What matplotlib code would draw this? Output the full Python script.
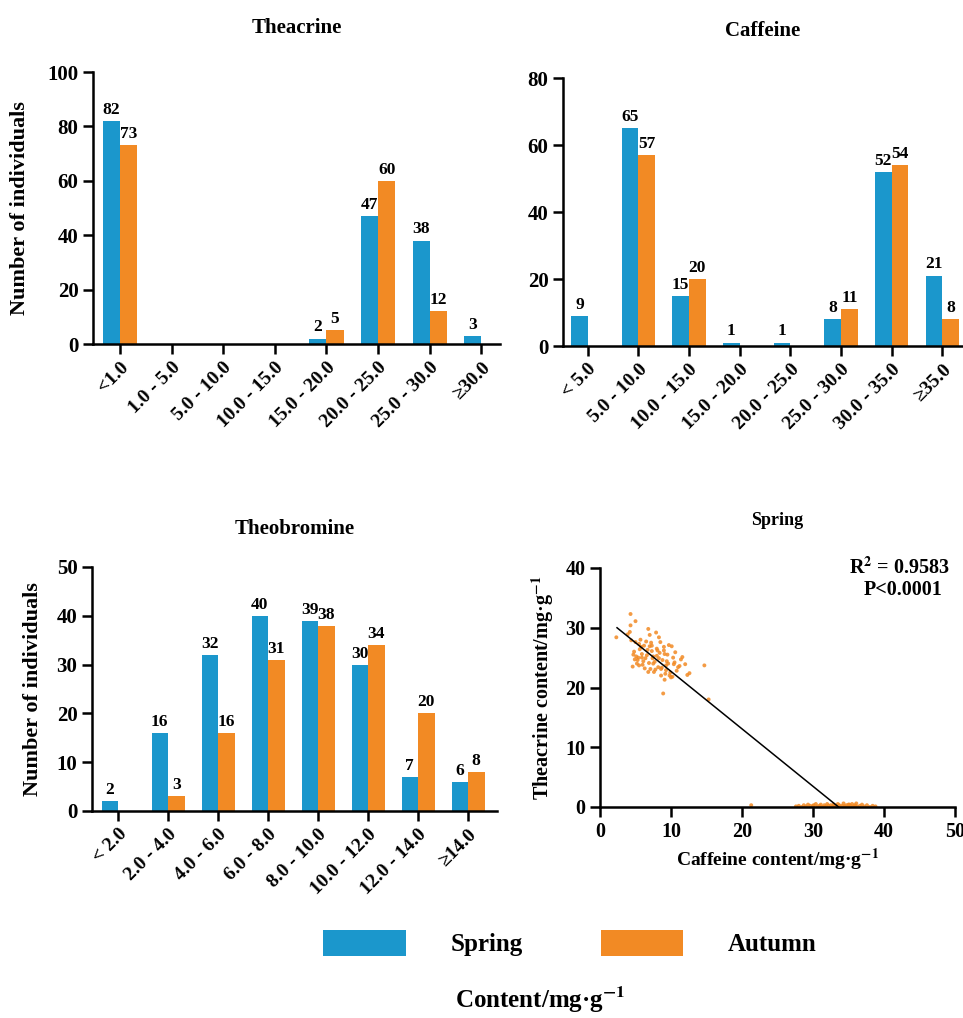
import numpy as np
import matplotlib
matplotlib.use("Agg")
import matplotlib.pyplot as plt
from matplotlib.patches import Patch

plt.rcParams.update({
    "font.family": ["Liberation Serif", "DejaVu Serif"],
    "font.weight": "bold",
    "axes.labelweight": "bold",
    "axes.titleweight": "bold",
    "mathtext.fontset": "stix",
    "axes.linewidth": 1.8,
    "xtick.major.width": 1.8,
    "ytick.major.width": 1.8,
    "xtick.major.size": 7,
    "ytick.major.size": 7,
})

BLUE = "#1B97CC"
ORANGE = "#F28A24"

# ---------------- data ----------------
theacrine_bins = ["<1.0", "1.0 - 5.0", "5.0 - 10.0", "10.0 - 15.0",
                  "15.0 - 20.0", "20.0 - 25.0", "25.0 - 30.0", "\u226530.0"]
theacrine_spring = [82, 0, 0, 0, 2, 47, 38, 3]
theacrine_autumn = [73, 0, 0, 0, 5, 60, 12, 0]

caffeine_bins = ["< 5.0", "5.0 - 10.0", "10.0 - 15.0", "15.0 - 20.0",
                 "20.0 - 25.0", "25.0 - 30.0", "30.0 - 35.0", "\u226535.0"]
caffeine_spring = [9, 65, 15, 1, 1, 8, 52, 21]
caffeine_autumn = [0, 57, 20, 0, 0, 11, 54, 8]

theobromine_bins = ["< 2.0", "2.0 - 4.0", "4.0 - 6.0", "6.0 - 8.0",
                    "8.0 - 10.0", "10.0 - 12.0", "12.0 - 14.0", "\u226514.0"]
theobromine_spring = [2, 16, 32, 40, 39, 30, 7, 6]
theobromine_autumn = [0, 3, 16, 31, 38, 34, 20, 8]

# spring scatter: caffeine (x) vs theacrine (y)
spring_caf_hi = [2.3, 4.3, 5.0, 4.3, 4.2, 4.4, 4.6, 4.8, 5.1, 5.3, 5.5, 5.2, 5.6, 5.9,
                 6.0, 6.2, 6.4, 5.8, 6.6, 6.8, 7.0, 7.1, 7.3, 7.5, 7.7, 7.2, 7.9, 8.0,
                 8.2, 8.4, 8.6, 8.8, 8.3, 9.0, 9.1, 9.3, 9.5, 9.7, 9.9, 10.1, 10.3, 10.5,
                 10.8, 11.2, 11.6, 12.0, 12.3, 14.7, 15.3, 6.9, 7.6, 8.1, 8.9, 9.4, 10.0,
                 4.9, 5.4, 6.3, 6.7, 7.4, 7.8, 8.5, 9.2, 9.6, 10.6, 11.0, 5.7, 6.1, 6.5,
                 7.0, 7.5, 8.0, 8.7, 9.8, 10.4, 4.7, 5.0, 5.5, 6.8, 8.3, 9.0, 9.3, 10.2,
                 11.4, 12.6, 3.9, 5.9, 7.3, 8.6, 9.1]
spring_thea_hi = [28.4, 32.3, 31.1, 30.4, 29.3, 27.9, 23.5, 26.0, 25.2, 24.6, 27.3, 24.0,
                  26.4, 25.6, 23.8, 27.0, 24.9, 26.8, 25.4, 29.8, 28.8, 23.1, 26.1, 25.2,
                  24.3, 27.5, 29.2, 26.5, 23.4, 25.8, 22.0, 24.6, 28.4, 26.8, 21.3, 23.7,
                  25.5, 27.1, 22.5, 26.9, 25.0, 24.2, 22.8, 23.6, 25.1, 23.9, 22.1, 23.7,
                  18.0, 24.1, 22.6, 26.2, 19.0, 24.4, 21.7, 24.7, 25.0, 23.2, 26.3, 24.9,
                  23.0, 27.6, 22.3, 24.0, 25.9, 23.4, 28.0, 24.4, 27.7, 26.9, 24.0, 25.3,
                  23.3, 22.0, 23.9, 25.5, 27.6, 23.7, 22.6, 24.9, 26.2, 22.9, 21.8, 24.7,
                  22.4, 28.9, 25.0, 27.0, 23.1, 25.6]

spring_caf_lo = [21.3, 27.6, 28.0, 28.4, 28.7, 29.0, 29.3, 29.6, 29.9, 30.1, 30.4, 30.6,
                 30.9, 31.1, 31.3, 31.6, 31.8, 32.0, 32.2, 32.5, 32.7, 32.9, 33.1, 33.3,
                 33.5, 33.7, 33.9, 34.1, 34.3, 34.5, 34.7, 34.9, 35.1, 35.3, 35.5, 35.7,
                 35.9, 36.1, 36.3, 36.6, 36.9, 37.2, 37.6, 38.0, 38.4, 38.8, 30.0, 31.5,
                 33.0, 34.4, 35.0, 36.0]
spring_thea_lo = [0.3, 0.1, 0.2, 0.0, 0.3, 0.1, 0.4, 0.2, 0.0, 0.3, 0.5, 0.1, 0.2, 0.4,
                  0.0, 0.3, 0.1, 0.5, 0.2, 0.3, 0.0, 0.4, 0.2, 0.1, 0.5, 0.3, 0.0, 0.2,
                  0.6, 0.1, 0.3, 0.0, 0.4, 0.2, 0.5, 0.1, 0.3, 0.6, 0.0, 0.2, 0.4, 0.1,
                  0.3, 0.0, 0.2, 0.1, 0.2, 0.0, 0.3, 0.1, 0.4, 0.2]

fit_x = [2.4, 33.6]
fit_y = [30.0, 0.0]

# ---------------- figure ----------------
fig = plt.figure(figsize=(9.63, 10.18), dpi=100)
W, H = 963.0, 1018.0


def px_axes(left, top, right, bottom):
    return fig.add_axes([left / W, 1 - bottom / H, (right - left) / W, (bottom - top) / H])


def style(ax, size):
    for s in ("top", "right"):
        ax.spines[s].set_visible(False)
    ax.tick_params(axis="both", labelsize=size, direction="out")
    for lab in ax.get_xticklabels() + ax.get_yticklabels():
        lab.set_fontweight("bold")


def bar_panel(ax, bins, spring, autumn, ymax, ystep, xlim, title, pad):
    x = np.arange(len(bins))
    w = 0.33
    ax.bar(x - w / 2, spring, w, color=BLUE)
    ax.bar(x + w / 2, autumn, w, color=ORANGE)
    for xi, v in zip(x - w / 2, spring):
        if v > 0:
            ax.text(xi, v + ymax * 0.012, str(v), ha="center", va="bottom",
                    fontsize=12.5, fontweight="bold")
    for xi, v in zip(x + w / 2, autumn):
        if v > 0:
            ax.text(xi, v + ymax * 0.012, str(v), ha="center", va="bottom",
                    fontsize=12.5, fontweight="bold")
    ax.set_xlim(*xlim)
    ax.set_ylim(0, ymax)
    ax.set_yticks(np.arange(0, ymax + 1, ystep))
    ax.set_xticks(x)
    style(ax, 15)
    ax.set_xticklabels(bins, rotation=45, ha="right", rotation_mode="anchor",
                       fontsize=14, fontweight="bold")
    ax.set_title(title, fontsize=15, fontweight="bold", pad=pad)


ax1 = px_axes(93, 72, 500, 344)
bar_panel(ax1, theacrine_bins, theacrine_spring, theacrine_autumn, 100, 20,
          (-0.52, 7.36), "Theacrine", 28)
ax1.set_ylabel("Number of individuals", fontsize=16, fontweight="bold")
ax1.yaxis.set_label_coords(-0.155, 0.5)

ax2 = px_axes(563, 78, 963, 346)
bar_panel(ax2, caffeine_bins, caffeine_spring, caffeine_autumn, 80, 20,
          (-0.49, 7.41), "Caffeine", 30)

ax3 = px_axes(92, 567, 497, 811)
bar_panel(ax3, theobromine_bins, theobromine_spring, theobromine_autumn, 50, 10,
          (-0.52, 7.58), "Theobromine", 24)
ax3.set_ylabel("Number of individuals", fontsize=16, fontweight="bold")
ax3.yaxis.set_label_coords(-0.12, 0.5)

ax4 = px_axes(600, 568, 955, 807)
ax4.scatter(spring_caf_hi, spring_thea_hi, s=8, color=ORANGE, alpha=0.85, edgecolors="none")
ax4.scatter(spring_caf_lo, spring_thea_lo, s=8, color=ORANGE, alpha=0.85, edgecolors="none")
ax4.plot(fit_x, fit_y, color="black", lw=1.1)
ax4.set_xlim(0, 50)
ax4.set_ylim(0, 40)
ax4.set_xticks(np.arange(0, 51, 10))
ax4.set_yticks(np.arange(0, 41, 10))
style(ax4, 14.5)
ax4.set_title("Spring", fontsize=13, fontweight="bold", pad=31)
ax4.set_xlabel("Caffeine content/mg\u00b7g$^{\\mathbf{-1}}$", fontsize=14, fontweight="bold")
ax4.set_ylabel("Theacrine content/mg\u00b7g$^{\\mathbf{-1}}$", fontsize=14.5, fontweight="bold")
ax4.yaxis.set_label_coords(-0.124, 0.5)
ax4.text(0.845, 1.0, r"R$^{\mathbf{2}}$ = 0.9583", transform=ax4.transAxes,
         ha="center", va="center", fontsize=14.5, fontweight="bold")
ax4.text(0.854, 0.908, "P<0.0001", transform=ax4.transAxes,
         ha="center", va="center", fontsize=14.5, fontweight="bold")

handles = [Patch(facecolor=BLUE, label="Spring"), Patch(facecolor=ORANGE, label="Autumn")]
fig.legend(handles=handles, loc="center", bbox_to_anchor=(570 / W, 1 - 943 / H),
           ncol=2, frameon=False, prop={"size": 18, "weight": "bold"},
           handlelength=3.3, handleheight=1.2, handletextpad=1.8, columnspacing=3.1)

fig.text(540 / W, 1 - 1000 / H, "Content/mg\u00b7g$^{\\mathbf{-1}}$", ha="center",
         va="center", fontsize=18, fontweight="bold")

fig.savefig("out.png", dpi=100)
